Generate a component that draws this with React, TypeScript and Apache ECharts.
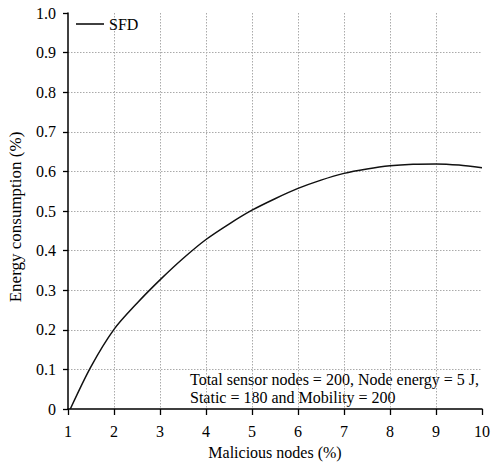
import React, { useEffect, useRef } from "react";
import * as echarts from "echarts";

const seriesName = "SFD";
const xValues = [1.05, 1.5, 2, 2.5, 3, 3.5, 4, 4.5, 5, 5.5, 6, 6.5, 7, 7.5, 8, 8.5, 9, 9.5, 10];
const yValues = [0, 0.107, 0.201, 0.267, 0.326, 0.38, 0.428, 0.467, 0.502, 0.531, 0.557, 0.578, 0.595, 0.606, 0.614, 0.618, 0.619, 0.616, 0.609];
const xTitle = "Malicious nodes (%)";
const yTitle = "Energy consumption (%)";
const noteLines = [
  "Total sensor nodes = 200, Node energy = 5 J,",
  "Static = 180 and Mobility = 200",
];

const FONT = "Liberation Serif";

export default function App() {
  const ref = useRef<HTMLDivElement>(null);
  useEffect(() => {
    document.body.style.margin = "0";
    if (!ref.current) return;
    const chart = echarts.init(ref.current, undefined, { renderer: "svg" });
    const data = xValues.map((x, i) => [x, yValues[i]]);
    chart.setOption({
      animation: false,
      backgroundColor: "#fff",
      textStyle: { fontFamily: FONT, color: "#000" },
      grid: { left: 68, right: 9, top: 13, bottom: 56, containLabel: false, outerBoundsMode: "none" },
      legend: {
        data: [{ name: seriesName, icon: "rect" }],
        left: 71,
        top: 11,
        itemWidth: 28,
        itemHeight: 1.6,
        itemGap: 8,
        textStyle: { fontFamily: FONT, fontSize: 16, color: "#000" },
      },
      xAxis: {
        type: "value",
        min: 1,
        max: 10,
        interval: 1,
        name: xTitle,
        nameLocation: "middle",
        nameGap: 35,
        nameTextStyle: { fontFamily: FONT, fontSize: 16, color: "#000" },
        axisLine: { show: true, lineStyle: { color: "#000", width: 1.5 } },
        axisTick: { show: true, inside: false, length: 6, lineStyle: { color: "#000", width: 1.3 } },
        axisLabel: { fontFamily: FONT, fontSize: 16, color: "#000", margin: 14 },
        splitLine: {
          show: true,
          showMinLine: false,
          showMaxLine: false,
          lineStyle: { color: "#aaa", type: [1.5, 1.5], width: 1 },
        },
      },
      yAxis: {
        type: "value",
        min: 0,
        max: 1,
        interval: 0.1,
        name: yTitle,
        nameLocation: "middle",
        nameGap: 44,
        nameTextStyle: { fontFamily: FONT, fontSize: 17, color: "#000", padding: [0, 12, 0, 0] },
        axisLine: { show: true, lineStyle: { color: "#000", width: 1.5 } },
        axisTick: { show: true, inside: false, length: 5, lineStyle: { color: "#000", width: 1.3 } },
        axisLabel: {
          fontFamily: FONT,
          fontSize: 16,
          color: "#000",
          margin: 12,
          formatter: (v: number) => (Math.abs(v) < 1e-9 ? "0" : v.toFixed(1)),
        },
        splitLine: {
          show: true,
          showMinLine: false,
          showMaxLine: false,
          lineStyle: { color: "#aaa", type: [1.5, 1.5], width: 1 },
        },
      },
      series: [
        {
          name: seriesName,
          type: "line",
          data,
          smooth: 0.3,
          symbol: "none",
          showSymbol: false,
          itemStyle: { color: "#111" },
          lineStyle: { color: "#111", width: 1.5 },
        },
      ],
      graphic: [
        {
          type: "text",
          left: 190,
          top: 370,
          style: {
            text: noteLines.join("\n"),
            fontFamily: FONT,
            fontSize: 16,
            lineHeight: 18,
            fill: "#000",
          },
        },
      ],
    });
    return () => chart.dispose();
  }, []);
  return <div ref={ref} style={{ width: 491, height: 465 }} />;
}
